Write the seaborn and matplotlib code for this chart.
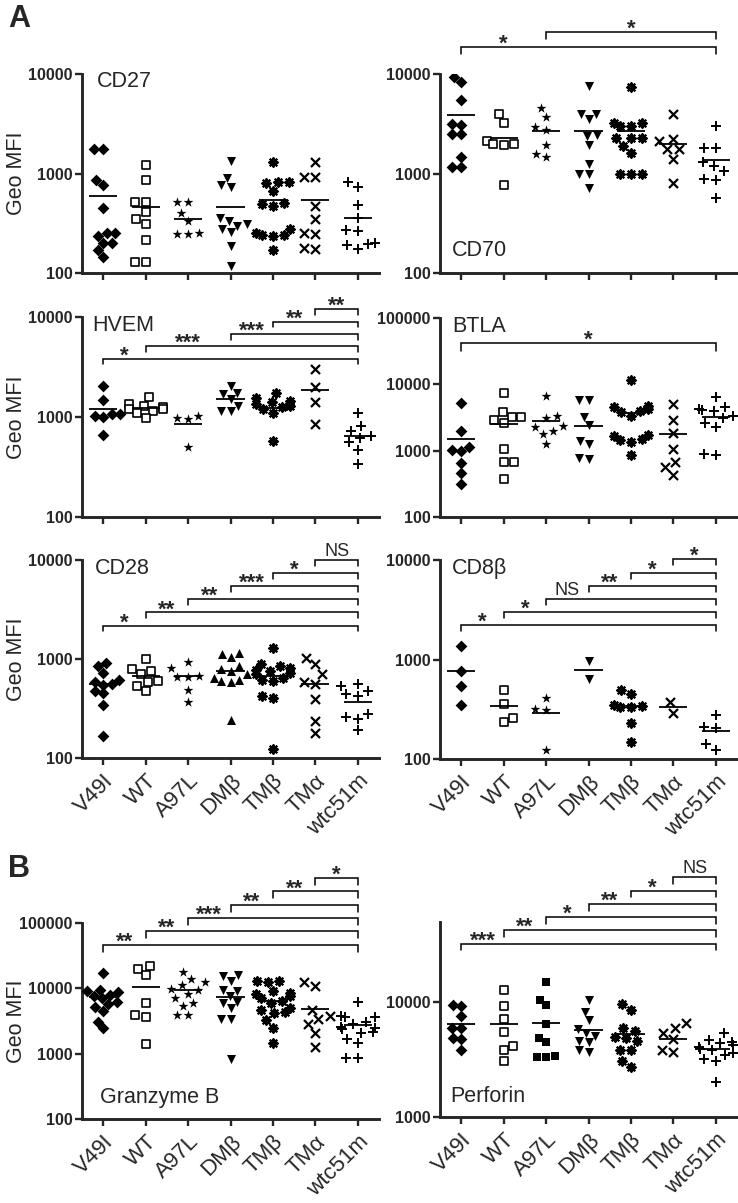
import numpy as np
import pandas as pd
import matplotlib
matplotlib.use("Agg")
import matplotlib.pyplot as plt
import matplotlib.transforms as mtransforms
from matplotlib.ticker import NullLocator
import seaborn as sns

GROUPS = ["V49I", "WT", "A97L", "DMβ", "TMβ", "TMα", "wtc51m"]

# Geo MFI per group
CD27 = [
    [1750, 1750, 860, 775, 450, 250, 250, 235, 200, 200, 170, 145],
    [1210, 870, 520, 520, 410, 345, 308, 215, 128, 128],
    [520, 520, 400, 330, 250, 248, 248],
    [1330, 900, 760, 740, 360, 330, 310, 300, 280, 260, 185, 118],
    [1300, 830, 820, 800, 660, 500, 490, 470, 280, 250, 240, 240, 235, 170],
    [1290, 930, 925, 470, 350, 250, 245, 178, 175],
    [820, 730, 480, 360, 268, 265, 200, 196, 192, 175],
]
CD27_MEAN = [588, 460, 346, 460, 546, 538, 359]

CD70 = [
    [9250, 8250, 5500, 3150, 3100, 2500, 2500, 1450, 1170, 1160],
    [4000, 3250, 2100, 2000, 2000, 1950, 760],
    [4600, 3700, 2900, 2750, 1950, 1560, 1450],
    [7600, 3950, 3950, 3500, 2450, 2400, 1950, 1240, 1000, 1000, 720],
    [7450, 3250, 3200, 3000, 3000, 2300, 2300, 2250, 1900, 1600, 1000, 985, 980],
    [3950, 2200, 2100, 1750, 1750, 1400, 810],
    [3000, 1800, 1800, 1300, 1200, 1050, 880, 870, 570],
]
CD70_MEAN = [3860, 2300, 2690, 2670, 2690, 1970, 1380]

HVEM = [
    [2050, 1470, 1070, 1060, 1030, 1000, 655],
    [1590, 1350, 1300, 1250, 1200, 1200, 1150, 1100, 980],
    [1030, 985, 950, 500],
    [2050, 1750, 1700, 1500, 1300, 1150, 1150],
    [1750, 1550, 1450, 1400, 1350, 1300, 1250, 1200, 1100, 575],
    [3050, 2000, 1400, 860],
    [1090, 820, 720, 640, 620, 560, 470, 335],
]
HVEM_MEAN = [1210, 1240, 857, 1500, 1240, 1850, 640]

BTLA = [
    [5150, 1980, 1150, 1020, 1000, 645, 465, 315],
    [7300, 3850, 3250, 3200, 2950, 2600, 1050, 680, 680, 370],
    [6650, 3350, 3100, 2350, 2300, 1950, 1780, 1260],
    [5800, 5800, 3250, 2450, 1400, 1250, 780, 760],
    [11600, 4700, 4500, 4300, 4000, 3800, 3300, 1700, 1650, 1500, 1450, 1350, 870],
    [5000, 2900, 1850, 1050, 680, 560, 430],
    [6500, 4500, 4300, 4100, 3900, 3300, 3100, 2600, 2300, 880, 850],
]
BTLA_MEAN = [1500, 2520, 2820, 2370, 3730, 1790, 3250]

CD28 = [
    [910, 855, 730, 620, 580, 560, 550, 470, 450, 340, 166],
    [1000, 790, 760, 700, 600, 590, 530, 470],
    [930, 810, 670, 665, 660, 490, 365],
    [1150, 1130, 1050, 850, 800, 760, 700, 650, 620, 600, 580, 240],
    [1300, 880, 850, 820, 780, 760, 720, 700, 650, 620, 600, 420, 400, 124],
    [1020, 880, 700, 580, 560, 390, 235, 180],
    [560, 530, 470, 440, 420, 280, 260, 250, 190],
]
CD28_MEAN = [561, 677, 666, 755, 677, 561, 371]

CD8B = [
    [1360, 775, 545, 350],
    [490, 360, 258, 233],
    [410, 315, 310, 123],
    [960, 640],
    [490, 445, 350, 340, 335, 330, 232, 149],
    [370, 288],
    [278, 212, 205, 142, 123],
]
CD8B_MEAN = [763, 338, 289, 792, 338, 330, 189]

GZMB = [
    [17000, 9300, 9000, 8700, 8000, 7500, 7000, 6200, 5700, 5100, 4500, 3100, 2450],
    [22000, 20000, 16000, 6000, 3850, 3600, 1390],
    [18000, 14000, 12500, 11300, 9800, 9500, 8200, 7000, 6000, 5400, 3950, 3900],
    [16000, 15500, 13000, 9300, 9100, 7500, 6200, 6000, 5000, 3400, 3400, 820],
    [13000, 12800, 12500, 9000, 8500, 8200, 7500, 7000, 6500, 6000, 5000, 4600,
     4400, 4200, 3300, 2500, 1470],
    [12300, 11000, 4700, 3800, 3400, 2850, 2100, 1260],
    [6100, 3800, 3700, 3600, 3000, 2800, 2600, 2500, 2400, 2150, 2100, 1700,
     1450, 850, 850],
]
GZMB_MEAN = [7470, 10350, 9540, 7470, 6500, 4860, 2700]

PERFORIN = [
    [9500, 9300, 7600, 6000, 5950, 4900, 4750, 3800],
    [12700, 9200, 7100, 5500, 4150, 3850, 3100],
    [15000, 10500, 9400, 6400, 4900, 4500, 3400, 3300, 3300],
    [10500, 8300, 7000, 5800, 5400, 5100, 4600, 4500, 3800, 3700],
    [9700, 8500, 6000, 5600, 5000, 4900, 4550, 3850, 3800, 3100, 2750],
    [6600, 6000, 5400, 4800, 3850, 3700],
    [5400, 4700, 4500, 4400, 4200, 4100, 3950, 3800, 3600, 3500, 3200, 3100, 2000],
]
PERFORIN_MEAN = [6520, 6430, 6600, 5770, 5290, 4790, 3920]

# significance brackets: start group index -> wtc51m, with label
CD70_SIG = ([0, 2], ["*", "*"])
HVEM_SIG = ([0, 1, 3, 4, 5], ["*", "***", "***", "**", "**"])
BTLA_SIG = ([0], ["*"])
CD28_SIG = ([0, 1, 2, 3, 4, 5], ["*", "**", "**", "***", "*", "NS"])
CD8B_SIG = ([0, 1, 2, 3, 4, 5], ["*", "*", "NS", "**", "*", "*"])
GZMB_SIG = ([0, 1, 2, 3, 4, 5], ["**", "**", "***", "**", "**", "*"])
PERFORIN_SIG = ([0, 1, 2, 3, 4, 5], ["***", "**", "*", "**", "*", "NS"])

sns.set_style("ticks")
plt.rcParams["font.family"] = ["Liberation Sans", "DejaVu Sans"]

# marker, swarm size, face colour, line width
STYLE = {
    "D": ("D", 6.0, "black", 0),
    "s_open": ("s", 6.0, "white", 1.2),
    "s_fill": ("s", 6.0, "black", 0),
    "*": ("*", 7.5, "black", 0),
    "v": ("v", 6.5, "black", 0),
    "^": ("^", 6.5, "black", 0),
    "ast": ((8, 2, 0), 6.0, "black", 1.6),
    "x": ("x", 6.5, "black", 1.6),
    "+": ("+", 6.5, "black", 1.4),
}
BASE_MARKERS = ["D", "s_open", "*", "v", "ast", "x", "+"]

W, H = 738, 1203
fig = plt.figure(figsize=(W / 100, H / 100), dpi=100)


def add_ax(left_px, top_px, bottom_px, width_px=297):
    return fig.add_axes([left_px / W, 1 - bottom_px / H, width_px / W, (bottom_px - top_px) / H])


def draw_brackets(ax, sig, base, step, tick=0.03):
    starts, labels = sig
    end = len(GROUPS) - 1
    trans = mtransforms.blended_transform_factory(ax.transData, ax.transAxes)
    for k, (s, lab) in enumerate(zip(starts, labels)):
        y = base + k * step
        ax.plot([s, s, end, end], [y - tick, y, y, y - tick], color="black",
                lw=1.1, transform=trans, clip_on=False, solid_joinstyle="miter")
        nxt = starts[k + 1] if k + 1 < len(starts) else end
        if lab == "NS":
            off = mtransforms.ScaledTranslation(0, 3 / 72, fig.dpi_scale_trans)
            ax.text((s + nxt) / 2, y, lab, transform=trans + off, ha="center",
                    va="baseline", fontsize=13)
        else:
            off = mtransforms.ScaledTranslation(0, -2 / 72, fig.dpi_scale_trans)
            ax.text((s + nxt) / 2, y, lab, transform=trans + off, ha="center",
                    va="baseline", fontsize=16, fontweight="bold")


def draw_panel(ax, data, means, ylim, yticks, title, title_xy, title_va,
               show_xlabels, ylabel, markers=None):
    markers = markers or BASE_MARKERS
    ax.set_yscale("log")
    for i, vals in enumerate(data):
        mk, size, face, lw = STYLE[markers[i]]
        df = pd.DataFrame({"group": GROUPS[i], "value": vals})
        sns.swarmplot(data=df, x="group", y="value", order=GROUPS, marker=mk,
                      size=size, color=face, edgecolor="black", linewidth=lw,
                      warn_thresh=1, ax=ax, zorder=3)
    ax.hlines(means, np.arange(len(GROUPS)) - 0.33, np.arange(len(GROUPS)) + 0.33,
              color="black", lw=1.3, zorder=4)
    ax.set_xlim(-0.5, len(GROUPS) - 0.5)
    ax.set_ylim(*ylim)
    ax.set_yticks(yticks)
    ax.set_yticklabels([str(t) for t in yticks], fontweight="bold", fontsize=11.5)
    ax.yaxis.set_minor_locator(NullLocator())
    ax.set_xticks(range(len(GROUPS)))
    if show_xlabels:
        ax.set_xticklabels(GROUPS, rotation=45, ha="right", va="top",
                           rotation_mode="anchor", fontsize=16)
    else:
        ax.set_xticklabels([])
    ax.set_xlabel("")
    if ylabel:
        ax.set_ylabel("Geo MFI", fontsize=15.5)
        ax.yaxis.set_label_coords(-0.185, 0.5)
    else:
        ax.set_ylabel("")
    ax.tick_params(axis="both", direction="out", length=5, width=1.7, pad=2)
    ax.tick_params(axis="x", pad=4)
    for sp in ["left", "bottom"]:
        ax.spines[sp].set_linewidth(2.1)
    sns.despine(ax=ax)
    ax.text(title_xy[0], title_xy[1], title, transform=ax.transAxes, fontsize=15.5,
            va=title_va, ha="left")


LX, RX = 82, 440

ax = add_ax(LX, 74, 273)
draw_panel(ax, CD27, CD27_MEAN, (100, 10000), [100, 1000, 10000], "CD27",
           (0.05, 1.015), "top", False, True)

ax = add_ax(RX, 74, 273)
draw_panel(ax, CD70, CD70_MEAN, (100, 10000), [100, 1000, 10000], "CD70",
           (0.04, 0.085), "baseline", False, False)
draw_brackets(ax, CD70_SIG, 1.134, 0.076, tick=0.035)

ax = add_ax(LX, 317, 517)
draw_panel(ax, HVEM, HVEM_MEAN, (100, 10000), [100, 1000, 10000], "HVEM",
           (0.035, 1.01), "top", False, True)
draw_brackets(ax, HVEM_SIG, 0.791, 0.062, tick=0.028)

ax = add_ax(RX, 318, 517)
draw_panel(ax, BTLA, BTLA_MEAN, (100, 100000), [100, 1000, 10000, 100000], "BTLA",
           (0.04, 1.01), "top", False, False)
draw_brackets(ax, BTLA_SIG, 0.874, 0.06, tick=0.04)

ax = add_ax(LX, 560, 758)
draw_panel(ax, CD28, CD28_MEAN, (100, 10000), [100, 1000, 10000], "CD28",
           (0.045, 1.01), "top", True, True,
           markers=["D", "s_open", "*", "^", "ast", "x", "+"])
draw_brackets(ax, CD28_SIG, 0.669, 0.066, tick=0.03)

ax = add_ax(RX, 560, 759)
draw_panel(ax, CD8B, CD8B_MEAN, (100, 10000), [100, 1000, 10000], "CD8β",
           (0.04, 1.01), "top", True, False)
draw_brackets(ax, CD8B_SIG, 0.673, 0.066, tick=0.03)

ax = add_ax(LX, 923, 1119)
draw_panel(ax, GZMB, GZMB_MEAN, (100, 100000), [100, 1000, 10000, 100000],
           "Granzyme B", (0.06, 0.08), "baseline", True, True)
draw_brackets(ax, GZMB_SIG, 0.889, 0.068, tick=0.035)

ax = add_ax(RX, 922, 1117)
draw_panel(ax, PERFORIN, PERFORIN_MEAN, (1000, 50000), [1000, 10000], "Perforin",
           (0.035, 0.077), "baseline", True, False,
           markers=["D", "s_open", "s_fill", "v", "ast", "x", "+"])
draw_brackets(ax, PERFORIN_SIG, 0.889, 0.068, tick=0.035)

fig.text(8 / W, 1 - 27 / H, "A", fontsize=22, fontweight="bold", va="baseline")
fig.text(8 / W, 1 - 877 / H, "B", fontsize=22, fontweight="bold", va="baseline")

fig.savefig("out.png", dpi=100)
